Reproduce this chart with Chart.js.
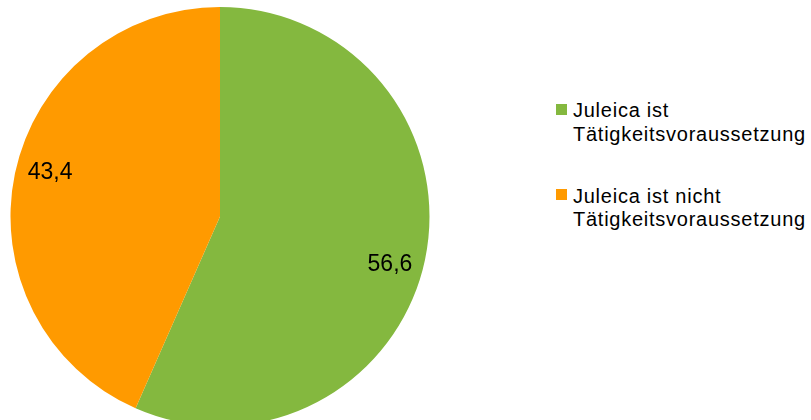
<!DOCTYPE html>
<html lang="de">
<head>
<meta charset="utf-8">
<script src="https://cdn.jsdelivr.net/npm/chart.js@4.4.1/dist/chart.umd.min.js"></script>
<style>
    html, body {
        margin: 0;
        padding: 0;
        width: 811px;
        height: 420px;
        overflow: hidden;
        background: #fff;
        font-family: "Liberation Sans", Arial, sans-serif;
    }
    #chartBox {
        position: absolute;
        left: 0;
        top: 0;
        width: 440px;
        height: 433px;
    }
    #legend {
        position: absolute;
        left: 556px;
        top: 99px;
        margin: 0;
        padding: 0;
        list-style: none;
    }
    #legend li {
        position: relative;
        padding-left: 17px;
        font-size: 20px;
        line-height: 23.5px;
        letter-spacing: 0.75px;
        color: #000;
        margin-bottom: 38.5px;
    }
    #legend li span {
        position: absolute;
        left: 0;
        top: 4.5px;
        width: 11px;
        height: 11px;
    }
</style>
</head>
<body>
<div id="chartBox"><canvas id="pieChart"></canvas></div>
<ul id="legend"></ul>

<script>
    const labels = [
        ['Juleica ist', 'Tätigkeitsvoraussetzung'],
        ['Juleica ist nicht', 'Tätigkeitsvoraussetzung']
    ];
    const values = [56.6, 43.4];
    const colors = ['#84B83F', '#FF9A00'];

    // value labels drawn inside the slices, near the rim
    const sliceLabels = {
        id: 'sliceLabels',
        afterDatasetsDraw(chart) {
            const ctx = chart.ctx;
            const meta = chart.getDatasetMeta(0);
            ctx.save();
            ctx.font = '23px "Liberation Sans", Arial, sans-serif';
            ctx.fillStyle = '#000';
            ctx.textAlign = 'center';
            ctx.textBaseline = 'alphabetic';
            meta.data.forEach((arc, i) => {
                const {x, y, startAngle, endAngle, outerRadius} =
                    arc.getProps(['x', 'y', 'startAngle', 'endAngle', 'outerRadius'], true);
                const mid = (startAngle + endAngle) / 2 + 0.055;
                const r = outerRadius * 0.84;
                const text = values[i].toLocaleString('de-DE', {minimumFractionDigits: 1});
                ctx.fillText(text, x + Math.cos(mid) * r, y + Math.sin(mid) * r + 8.5);
            });
            ctx.restore();
        }
    };

    new Chart(document.getElementById('pieChart').getContext('2d'), {
        type: 'pie',
        data: {
            labels: labels,
            datasets: [{
                data: values,
                backgroundColor: colors,
                borderWidth: 0
            }]
        },
        options: {
            responsive: true,
            maintainAspectRatio: false,
            animation: false,
            layout: {
                padding: {left: 10, right: 10, top: 7, bottom: 7}
            },
            plugins: {
                legend: {display: false},
                tooltip: {enabled: false}
            }
        },
        plugins: [sliceLabels]
    });

    const legendEl = document.getElementById('legend');
    labels.forEach((lines, i) => {
        const li = document.createElement('li');
        const box = document.createElement('span');
        box.style.background = colors[i];
        li.appendChild(box);
        lines.forEach((line, j) => {
            if (j > 0) li.appendChild(document.createElement('br'));
            li.appendChild(document.createTextNode(line));
        });
        legendEl.appendChild(li);
    });
</script>
</body>
</html>
